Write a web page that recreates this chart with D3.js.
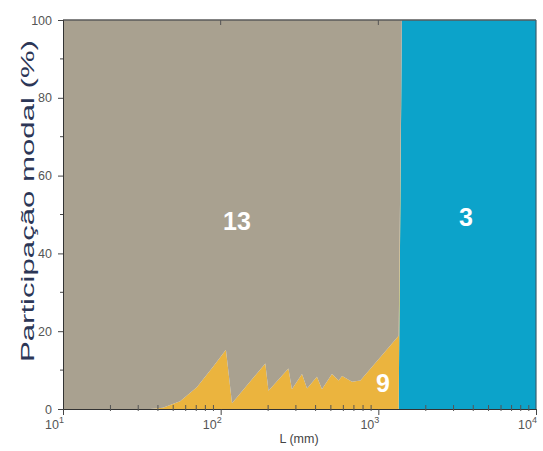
<!DOCTYPE html>
<html><head><meta charset="utf-8">
<script src="https://cdn.jsdelivr.net/npm/d3@7"></script>
<style>
html,body{margin:0;padding:0;background:#fff;}
svg{display:block;}
text{font-family:"Liberation Sans Narrow","Arial Narrow","Liberation Sans",Arial,sans-serif;}
</style></head>
<body>
<svg id="chart" width="543" height="451"></svg>
<script>
// Data
const lengthMm = [10, 35.7, 43, 55.3, 70.6, 90, 108, 118, 192, 201, 269, 283, 328, 353, 408, 439, 508, 560, 589, 681, 769, 1346, 1410, 10000];
const mode9  = [0, 0, 0.3, 2, 5.6, 11, 15.2, 1.5, 11.7, 4.7, 10.4, 5.1, 9, 5.3, 8.3, 5.1, 9, 7.3, 8.5, 7, 7.3, 18.8, 0, 0];
const mode3  = [0, 0, 0, 0, 0, 0, 0, 0, 0, 0, 0, 0, 0, 0, 0, 0, 0, 0, 0, 0, 0, 0, 100, 100];
const mode13 = mode9.map((v, i) => 100 - v - mode3[i]);
const seriesNames = ["3", "9", "13"];
const seriesColors = {"3": "#0ca3ca", "9": "#ebb43e", "13": "#a9a190"};
const yTicks = [0, 20, 40, 60, 80, 100];
const xTickExps = [1, 2, 3, 4];

const svg = d3.select("#chart");
const m = {left: 63, right: 536, top: 20, bottom: 409};
const x = d3.scaleLog().domain([10, 10000]).range([m.left, m.right]);
const y = d3.scaleLinear().domain([0, 100]).range([m.bottom, m.top]);

const table = lengthMm.map((L, i) => ({L, "3": mode3[i], "9": mode9[i], "13": mode13[i]}));
const stacked = d3.stack().keys(seriesNames)(table);
const area = d3.area().x(d => x(d.data.L)).y0(d => y(d[0])).y1(d => y(d[1]));

svg.append("g").selectAll("path").data(stacked).join("path")
  .attr("d", area).attr("fill", d => seriesColors[d.key]).attr("stroke", "none");

// frame top/right
svg.append("line").attr("x1", m.left).attr("x2", m.right).attr("y1", m.top).attr("y2", m.top).attr("stroke", "#5a5a5a").attr("stroke-width", 1.5);
svg.append("line").attr("x1", m.right).attr("x2", m.right).attr("y1", m.top).attr("y2", m.bottom).attr("stroke", "#3a6070").attr("stroke-width", 1.2);

// Y axis
const yAxis = svg.append("g").attr("transform", `translate(${m.left},0)`)
  .call(d3.axisLeft(y).tickValues(yTicks).tickSize(5).tickPadding(6));
yAxis.select(".domain").attr("stroke", "#333");
yAxis.selectAll(".tick line").attr("stroke", "#444");
yAxis.selectAll("text").attr("fill", "#555").attr("font-size", 12.5);
const yMinor = d3.range(10, 100, 10).filter(v => v % 20 !== 0);
svg.append("g").selectAll("line").data(yMinor).join("line")
  .attr("x1", m.left - 3).attr("x2", m.left).attr("y1", d => y(d)).attr("y2", d => y(d)).attr("stroke", "#444");

// X axis
const xMajor = xTickExps.map(e => Math.pow(10, e));
const xAxis = svg.append("g").attr("transform", `translate(0,${m.bottom})`)
  .call(d3.axisBottom(x).tickValues(xMajor).tickSize(6).tickFormat(""));
xAxis.select(".domain").attr("stroke", "#333");
xAxis.selectAll(".tick line").attr("stroke", "#444");
const xMinor = [];
for (let e = 1; e < 4; e++) for (let k = 2; k <= 9; k++) xMinor.push(k * Math.pow(10, e));
svg.append("g").selectAll("line").data(xMinor).join("line")
  .attr("x1", d => x(d)).attr("x2", d => x(d)).attr("y1", m.bottom - 4).attr("y2", m.bottom + 2).attr("stroke", "#555");
// top mirrored ticks
svg.append("g").selectAll("line").data(xMajor.slice(1, 3)).join("line")
  .attr("x1", d => x(d)).attr("x2", d => x(d)).attr("y1", m.top).attr("y2", m.top + 5).attr("stroke", "#555");

const xl = svg.append("g").selectAll("text").data(xTickExps).join("text")
  .attr("x", e => x(Math.pow(10, e)) + 1).attr("y", m.bottom + 20)
  .attr("text-anchor", "end").attr("fill", "#555").attr("font-size", 12.5);
xl.append("tspan").attr("dy", 0).text("10");
xl.append("tspan").attr("dy", -6).attr("font-size", 9).text(e => e);

svg.append("text").attr("x", 299).attr("y", 443).attr("text-anchor", "middle")
  .attr("fill", "#444").attr("font-size", 12.5).text("L (mm)");

svg.append("text").attr("transform", "translate(34,201) rotate(-90)").attr("text-anchor", "middle")
  .attr("fill", "#2c3656").attr("font-size", 19)
  .attr("textLength", 322).attr("lengthAdjust", "spacingAndGlyphs")
  .style("font-family", "'Liberation Sans',Arial,sans-serif").text("Participação modal (%)");

// region labels
const labels = [{t: "13", x: 237, y: 230}, {t: "3", x: 466, y: 226}, {t: "9", x: 383, y: 392}];
svg.append("g").selectAll("text").data(labels).join("text")
  .attr("x", d => d.x).attr("y", d => d.y).attr("text-anchor", "middle")
  .attr("fill", "#fff").attr("font-size", 25).attr("font-weight", "bold").text(d => d.t);
</script>
</body></html>
